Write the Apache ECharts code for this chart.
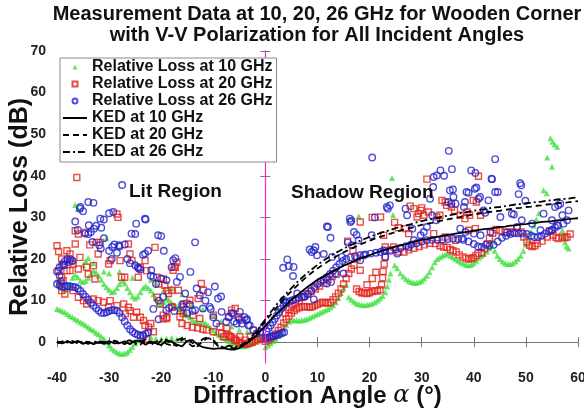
<!DOCTYPE html>
<html>
<head>
<meta charset="utf-8">
<script src="https://cdn.jsdelivr.net/npm/echarts@6/dist/echarts.min.js"></script>
<style>
html,body{margin:0;padding:0;background:#fff;}
#chart{width:584px;height:411px;}
</style>
</head>
<body>
<div id="chart"></div>
<script>
// ---------- DATA ----------
const seriesNames = ['Relative Loss at 10 GHz','Relative Loss at 20 GHz','Relative Loss at 26 GHz','KED at 10 GHz','KED at 20 GHz','KED at 26 GHz'];
const yTickValues = [0,10,20,30,40,50,60,70];

// 10 GHz measured (green triangles)
const green10Lit = [
[-40,8],[-39.5,7.8],[-39,7.5],[-38.5,7.2],[-38,6.8],[-37.5,6.3],[-37,6],[-36.5,5.6],[-36,5.2],[-35.5,4.8],[-35,4.5],[-34.5,4.1],[-34,3.6],[-33.5,3.2],[-33,2.8],[-32.5,2.3],[-32,1.9],[-31.5,1.4],[-31,0.8],[-30.5,0],[-30,-0.8],[-29.5,-1.5],[-29,-2],[-28.5,-2.4],[-28,-2.7],[-27.5,-2.8],[-27,-2.7],[-26.5,-2.4],[-26,-1.8],[-25.5,-1.1],[-25,-0.3],[-24.5,0.4],
[-22,1.2],[-21,0.8],[-20,0.6],[-19,0.9],[-18,1.0],[-17,0.7],[-16,0.9],
[-40,15],[-39.5,14.2],[-39,13],[-38.5,12.5],[-38,12.8],[-37.5,14],[-37,15.5],[-36.5,16.2],[-36,15.6],[-35.5,14.8],[-35,14.5],[-34.5,14.8],[-34,15.5],[-33.5,16.5],[-33,17.2],[-32.5,16.8],[-32,16],[-31.5,15],[-31,14],[-30.5,13.2],[-30,12.6],[-29.5,12],[-29,12.2],[-28.5,13],[-28,14],[-27.5,14.8],[-27,14.2],[-26.5,13],[-26,12],[-25.5,11],[-25,10.5],[-24.5,11],[-24,12],[-23.5,13],[-23,13.5],[-22.5,13],[-22,12.4],[-21.5,11.5],[-21,10.5],[-20.5,9.5],[-20,9],[-19.5,9.6],[-19,10.5],[-18.5,10.2],[-18,9.5],[-17.5,9],[-17,8.6],[-16.5,8],[-16,7.4],[-15.5,7],[-15,6.5],[-14.5,6],[-14,5.4],[-13.5,5],[-13,4.6],[-12.5,4.5],[-12,4.8],[-11.5,4.6],[-11,4],[-10.5,3.4],[-10,2.8],[-9.5,2.2],[-9,1.8],[-8.5,1.4],[-8,1],[-7.5,0.6],[-7,0.3],[-6.5,0],[-6,-0.3],[-5.5,-0.6],[-5,-0.8],[-4.5,-1],[-4,-1],[-3.5,-0.8],[-3,-0.5],[-2.5,-0.2],[-2,0.2],[-1.5,0.5],[-1,0.8],[-0.5,1.1],
[-36.5,33],[-36,32],[-34.5,19.5],[-35,18.5],[-34,20.2],[-33,19],[-30.5,25],[-31,17],[-30,16.5],[-28,17],[-25.5,15.5],[-22,15],[-21,14.2],[-19.5,12.5],[-18,13],[-16,11.5],[-14,9],[-12,8],[-10,6.5],[-8.5,5],[-6.5,3.8],[-5,3],[-3.5,2.5]
];
const green10Shadow = [
[0,-1.2],[0.5,-0.8],[1,-0.3],[1.5,0.2],[2,0.8],[2.5,1.5],[3,2.3],[3.5,3.2],[4,4.2],[4.5,4.9],[5,5.2],[5.5,5.3],[6,5.3],[6.5,5.2],[7,5.3],[7.5,5.4],[8,5.6],[8.5,5.9],[9,6.2],[9.5,6.5],[10,6.8],[10.5,7.1],[11,7.4],[11.5,7.7],[12,8.0],[12.5,8.4],[13,8.9],[13.5,9.6],[14,10.6],[14.5,11.8],[15,13.0],[15.5,13.8],
[16,10.8],[16.5,10.2],[17,9.7],[17.5,9.3],[18,9.1],[18.5,9.0],[19,8.9],[19.5,9.0],[20,9.1],[20.5,9.3],[21,9.6],[21.5,10.0],[22,10.5],[22.5,11.1],[23,12.0],[23.4,13.4],[23.7,15],[24,16.5],
[24.8,18.5],[25.3,17.8],[25.9,16.6],[26.5,15.8],[27,15.2],[27.5,14.8],[28,14.5],[28.5,14.3],[29,14.3],[29.5,14.5],[30,14.8],[30.5,15.3],[31,16],[31.5,16.9],[32,18],[32.5,19.2],[33,20],[33.5,20.4],[34,20.8],[34.5,21.1],[35,21.3],
[35.5,20.8],[36,20.4],[36.5,20],[37,19.6],[37.5,19.2],[38,18.9],[38.5,18.6],[39,18.5],[39.5,18.6],[40,19],[40.5,19.6],[41,20.3],[41.5,20.8],[42,21.2],[42.5,21.8],[43,22.6],[43.3,23.5],[43.6,24.4],
[44,22],[44.5,20.8],[45,20],[45.5,19.4],[46,19],[46.5,18.8],[47,18.8],[47.5,19],[48,19.4],[48.5,20],[49,20.8],[49.5,22],[50,23.5],[50.5,25],[51,26.5],[51.5,28],[52,29.5],[52.5,31],
[57,27],[57.3,25.5],[57.5,24],[57.8,23],[58.2,22.5],
[17.9,30.3],[24.3,39.5],[24.5,30.6],[54.7,49],[55.1,48.2],[55.5,47.5],[56,47],[54.1,44.4],[55,42.2],[53.4,36.5],[54,35.8]
];

// 20 GHz measured (red squares)
const red20Lit = [
[-40,23.2],[-39.7,21.8],[-39.1,20],[-38.1,22],[-37.5,21.2],[-38.8,18.8],[-37.2,19.6],[-39.7,17.2],[-38.1,17.2],[-39.1,15.6],[-39.4,14],[-39.1,12.4],[-38.5,11.6],[-37.5,17.2],[-36.9,18.8],[-36.5,26.8],[-36.2,39.6],[-35.9,26],[-34.6,26.4],[-33.7,23.4],[-36.5,23.6],[-35.6,20.4],[-35.9,17.6],[-34.3,18],[-34,16.4],[-32.7,15.2],[-33,18.4],[-32.1,21.2],[-32.4,24],[-31.7,24],[-29.8,19.6],[-30.1,18.8],[-28.5,30.8],[-28.3,30],[-27.9,19.6],[-27.6,15.6],[-27,15.6],[-26.3,23.6],[-26,21.2],[-25.6,19.6],[-24.4,15.6],[-24,18],[-23.1,19.6],[-22.8,17.2],[-21.2,22.8],[-20.8,15.6],[-20.5,14],[-19.6,15.2],[-20.8,10.8],[-20.2,9.2],[-18.9,12.4],[-17.9,8.4],[-17.3,18],[-17,19.2],[-18.9,6],[-19.6,5.6],[-16.3,7.6],[-15.7,9.2],
[-38.8,14.8],[-36.9,12.4],[-35.9,10.8],[-34.9,10],[-34.3,9.2],[-33,10.4],[-32.1,10],[-31.1,9.6],[-29.8,10],[-30.1,8.4],[-28.5,8.8],[-27.2,9.2],[-26.3,8.4],[-26,7.6],[-24.7,7.2],[-24,6],[-23.4,5.2],[-23.1,4],[-22.4,3.6],[-26.9,6.8],[-25.3,6],[-22,4.5],[-21.5,2.5],[-23.5,1.5],[-22.8,0.8],
[-17.4,18.1],[-17.7,17.3],[-19.3,13.7],[-18,12.5],[-18.6,11.7],[-16.7,12.5],[-19.6,6.5],[-19,5.7],[-18,8.5],[-16.4,6.1],[-15.8,6.9],[-15.1,9.3],[-14.5,10.1],[-12.9,10.5],[-12.3,14.1],[-11.9,12.5],[-13.9,6.5],[-12.6,5.7],[-10,6.5],[-8.7,3.7],[-7.4,3.3],[-6.5,7.7],[-5.8,8.1],[-5.2,6.1],[-4.5,5.3],[-7.1,6.1],[-8,1.3],[-5.8,0.5],[-4.9,1.3],[-3.9,0.5],[-2.9,1.3],[-2.3,2.9],[-11.3,2.9],[-10,2.5],[-8.4,2.1],[-6.8,1.3],
[-16,4.5],[-15,4],[-14,3.6],[-13,3.4],[-12,3.1],
[-7.5,2],[-7,1.6],[-6.5,1.2],[-6,0.8],[-5.5,0.4],[-5,0],[-4.5,-0.3],[-4,-0.5],[-3.5,-0.4],[-3,-0.2],[-2.5,0],[-2,0.3],[-1.5,0.6],[-1,1],[-0.5,0.8]
];
const red20Shadow = [
[0,0.2],[0.5,0.5],[1,0.9],[1.5,1.4],[2,2],[2.5,2.8],[3,3.6],[3.5,4.6],[4,5.5],[4.5,6.3],[5,7],[5.5,7.6],[6,8],[6.5,8.3],[7,8.5],[7.5,8.6],[8,8.5],[8.5,8.4],[9,8.5],[9.5,8.8],[10,9.1],[10.5,9.4],[11,9.6],[11.5,9.5],[12,9.4],[12.5,9.6],[13,10.2],[13.5,10.9],[14,11.8],[14.5,12.8],[15,14],[15.5,15.3],[16,16.5],[16.5,17.6],[17,18.5],
[3.8,7],[4.5,7.9],[5.1,8.7],[5.8,9.4],[6.5,10],[7.3,11],[8,11.6],[8.8,12.2],[9.6,12.8],[10.4,13.5],[11.2,14.2],[12,15],[12.8,15.8],[13.6,16.3],
[17.5,12.8],[18,12.2],[18.5,11.9],[19,11.8],[19.5,11.7],[20,11.9],[20.5,12.2],[21,12.4],[21.5,12.3],[22,12.6],[22.3,13.8],[22.5,15.5],[22.6,17],[22.8,18.8],[23,20.5],
[18.2,17.3],[19.5,13.8],[20.5,15.3],[21.2,16.8],[17.6,20.2],[16.8,22],[15.8,24.3],[18.2,28.9],[20.5,30],[22.1,30.1],[22.7,25.7],[23,22.9],
[24,22.2],[24.6,22.9],[25.6,21.7],[26.6,21.7],[27.5,22.2],[28.5,22.6],[29.5,23],[30.5,23.4],[31.5,23.8],[32.7,23.7],[33.5,23.2],[34.2,22.9],[34.9,22.8],[35.5,22.3],[36,22],[36.6,21.7],[37.2,21],[37.9,20.5],[38.5,20.2],[39,20],[39.5,20.1],[39.9,20.3],[40.4,20.8],[40.8,21.3],[41.5,21.5],[42.1,22.5],[42.6,23.7],[43,25],[43.6,26.2],[44.3,27.1],
[45,26.8],[46,26.5],[47,26.4],[47.5,26.5],[48.3,27.5],[49.1,26.5],[49.6,25.3],[50.2,24.1],[50.7,23.3],[51.2,23],[51.7,23.2],[52.2,23.7],[53.1,24.3],[54.1,25.3],[54.6,26.8],[55.2,25.7],[55.8,25.2],[56.2,24.9],[57,25.3],[57.5,25.1],[57.9,25.3],[58.5,26],
[26.9,27.3],[27.5,26.1],[27.8,32.7],[28.5,32.1],[29.4,30.9],[29.8,31.7],[30,32.3],[30.4,30.5],[29.1,30.1],[31,39.2],[31.3,31.3],[32.9,30.1],[33.5,30.5],[33.9,34.1],[34.5,33.7],[34.8,32.9],[35.7,32.5],[36.3,31.7],[37.4,30.5],[38.3,29.7],[38.7,31.3],[39.2,30.5],[39.9,34.1],[40.5,33.7],[40.9,39.9],[41.3,30.5],[32.3,26.1],[34.5,25.3],[36.5,24.5],[39,26.9],[40.3,27.3],[25.5,27.5],[24.8,28.8]
];

// 26 GHz measured (blue circles)
const blue26Lit = [
[-40,14],[-39.5,13.6],[-39,13.4],[-38.5,13.4],[-38,13.5],[-37.5,13.4],[-37,13.3],[-36.5,13.2],[-36,12.9],[-35.5,12.3],[-35,11.6],[-34.5,10.9],[-34,10.2],[-33.5,9.5],[-33,8.8],[-32.5,8.2],[-32,7.6],[-31.5,7.1],[-31,7],[-30.5,7.2],[-30,7.5],[-29.5,7.7],[-29,7.7],[-28.5,7.6],[-28,7],[-27.5,6],[-27,5],[-26.5,4],[-26,3.1],[-25.5,2.5],[-25,2.1],[-24.5,1.8],[-24,1.6],[-23.5,1.7],[-23,2],[-22.5,2.4],
[-40,17],[-39.5,18],[-39,18.5],[-38.5,19.5],[-38,20],[-37.5,20],[-37,19.5],[-36.5,29],[-36,27],[-35.5,32.5],[-35,31.5],[-34,26],[-33.5,26.5],[-33,33.5],[-32.5,28],[-31.5,27.5],[-31,29.5],[-31,25],[-30,31],[-30,22],[-29.5,20],[-29,23.5],[-28.5,21.5],[-28,23],[-27.5,37.8],[-27,23.5],[-26.5,20],[-26,19],[-25,26],[-24.8,28.5],[-24.5,18],[-24,17.5],[-23.5,21],[-23,29.5],[-22.5,22],[-22,16],[-21,14],[-20.5,10],[-20,25.5],[-19.5,22],
[-17.7,19.7],[-17.3,20.2],[-14.4,16.9],[-16.4,15.7],[-17,14.5],[-19,14.9],[-19.6,10.9],[-19,7.7],[-15.4,11.7],[-13.2,12.9],[-12.6,11.3],[-9.7,13.4],[-9.1,10.5],[-10.7,8.5],[-12,8.1],[-13.5,7.7],[-15.8,8.5],[-8.4,7.3],[-6.2,6.9],[-4.9,7.3],[-3.7,5.3],[-3.3,4.1],[-2.3,2.9],[-1.7,2.1],[-1,2.5],[-0.4,3.7],[-9.4,4.5],[-7.5,4.9],[-5.5,4.5],[-13.5,24],[-18,18],[-16,9],[-15,7],[-14.5,9],[-14,7.5],[-11.5,10],[-11,12],[-10.5,8],[-10,6],[-8.5,11],[-7,6],[-6.5,7],[-6,5],[-5,5.5],[-4.5,4.5],[-4,6],[-3.5,5.5],[-3,4],[-21.5,8],[-20.5,5.5],[-18.5,8.2],[-17.5,7.5],
[-34,33.7],[-35.6,32.1],[-29.2,31.3],[-31.7,29.7],[-23.1,29.7],[-33.9,28.1],[-32.9,27.3],[-34.6,26.1],[-25.7,26.1],[-20.6,25.7],[-33.2,24.1],[-31.9,23.3],[-29.4,22.9],[-28.1,23.3],[-23.1,21.3],[-31.6,22.5],[-37.6,19.3],[-38.6,18.5],[-39.5,16.1],[-39.2,14.5],[-25,18.5],[-24.3,17.7],[-21.5,15.7],[-21.9,17.3],[-20,15.3]
];
const blue26Shadow = [
[0,1],[0.4,1.1],[0.8,1.2],[1.2,1.4],[1.6,1.5],[2,1.7],[2.4,1.8],[2.8,2],[3.2,2.2],[3.6,2.4],
[0.2,2.6],[0.6,3.3],[1,4],[1.4,4.8],[1.8,5.6],[2.2,6.4],[2.6,7.2],[3,8],[3.5,8.8],[4,9.4],[4.6,9.8],[5.2,10.1],[5.8,10.4],[6.4,10.6],[7,10.8],[7.6,11],[8.2,11.6],[8.8,12.4],[9.4,13.2],[10,14],[10.6,14.6],[11.2,15],[11.8,15.6],[12.4,16.4],[13,17.2],[13.6,18],[14.2,18.8],[14.8,19.5],[15.5,20],[16.3,20.4],[17.2,20.7],[18.2,20.9],[19.2,21.1],[20.2,21.3],[21.2,21.5],[22.1,21.7],[23,21.9],[24,22],[25,22.3],[26,22.7],[27,23.1],[28,23.5],[29,23.8],[30,24.2],[31,24.5],[32,24.6],[33,24.6],[34,24.7],[35,24.8],[36,24.9],[37,24.8],[38,24.6],[39,24.2],[40,23.6],[40.8,23],[41.5,22.9],[42.3,23.4],[43,23.2],[43.8,23.4],[44.6,24.2],[45.4,25.1],[46.2,25.6],[47,26],[47.8,26.2],[48.6,26.2],[49.4,26.1],[50.2,26],[51,25.6],[51.6,25.3],[52.3,25.3],[53,25.6],[53.7,26.1],[54.4,26.6],[55,27],[55.6,27.6],[56.2,28],
[20.5,44.4],[35.2,46],[44.1,44],[33.6,41.3],[32.9,40.1],[32.3,39.7],[34.3,40],[35.8,41.6],[39.5,41.3],[40.3,40.7],[43.5,39.2],[40.5,37.2],[39,35.9],[40.9,34.5],[44.6,36.1],[48.6,35.6],[49.1,37.7],[49.9,34],[36,36.7],[36.1,34.9],[35.1,33.7],[36.5,33.3],[26.9,32.1],[27.2,30.5],[23.9,32.9],[23.5,32.1],[21,30],[16.2,29.7],[16.5,29.2],[16.3,28.9],[12,27.7],[12.5,25.1],[9.6,22.9],[8.9,21.7],[8.5,22.3],[11.2,21.2],[12.8,20.5],[15.8,24],[17,26.5],[17.5,25.8],[4.2,19.9],[4.5,18.3],[3.4,17.9],[5.3,15.9],[6.1,11.7],[3.5,10.1],[3.9,9.6],[7.4,10.9],[9.3,10.3],[11.8,14.1],[12.6,14.5],[13.4,16.5],[15,16.5],[14.7,20.5],[18.2,19.7],[18.9,20.9],[22.7,22.1],[23,20.5],[25.3,21.3],[27.5,22.9],[28.5,24.5],[29.8,25.7],[30.4,26.5],[31,27.7],[28.2,27.3],[32,30.5],[32.8,29.3],[37.4,27.3],[38.4,26.5],[37.7,24.9],[40,26.1],[41.3,25.7],[43.2,26.5],[46.4,26.4],[48.3,27.7],[51.2,28.5],[52.8,26.9],[55,26.9],[56,28.1],[57,30.5],[57.9,29.3],[56.6,33.3],[58.2,31.7],[47.7,30.7],[45.1,30.1],[53.4,30.9],[42.2,31.1],[38.1,32.5],
[32.2,37.3],[35.4,36.5],[38.6,36.1],[40.2,36.9],[41.2,34.9],[42.8,34.1],[44.1,36.1],[35.7,33.3],[38.3,33.7],[41.9,31.7],[47.3,30.9],[49.2,29.3],[55.6,32.5],[56.2,32.9],[57.2,28.5],[55,29.3],[31.6,34.5],[48.9,38.2],[43.4,39.3],
[11.8,27.8],[9.3,22.1],[9.9,20.9],[16.6,23.3],[17.9,24.5],[20.4,25.7],[23.3,32.5],[5.4,18.1]
];

// KED model curves
const kedAngles = [-40,-39,-38,-37,-36,-35,-34,-33,-32,-31,-30,-29,-28,-27,-26,-25,-24,-23,-22,-21,-20,-19,-18,-17,-16,-15,-14,-13,-12,-11,-10,-9,-8,-7,-6,-5,-4,-3,-2,-1,0,1,2,3,4,5,6,7,8,9,10,11,12,13,14,15,16,17,18,19,20,21,22,23,24,25,26,27,28,29,30,31,32,33,34,35,36,37,38,39,40,41,42,43,44,45,46,47,48,49,50,51,52,53,54,55,56,57,58,59,60];
const ked10 = [0,-0.3,0.2,-0.2,0.3,-0.4,0.1,-0.5,0.0,-0.4,0.3,-0.3,-0.2,0.2,-0.5,0.4,0.3,-0.6,0.2,-0.2,-0.7,0.4,0.2,-0.6,-1.0,0.3,0.5,-0.6,-1.2,-1.4,-1.6,-1.5,-1.4,-1.7,-1.8,-1.4,-0.6,0.3,1.3,2.6,4.0,5.3,6.6,7.8,9.0,10.2,11.2,12.2,13.2,14.1,15.0,15.7,16.4,17.1,17.7,18.4,18.9,19.5,20.0,20.5,20.9,21.4,21.8,22.2,22.6,23.0,23.3,23.6,24.0,24.3,24.6,24.8,25.1,25.3,25.6,25.8,26.0,26.2,26.4,26.6,26.8,27.0,27.2,27.3,27.5,27.7,27.8,28.0,28.1,28.3,28.4,28.6,28.7,28.9,29.0,29.1,29.3,29.4,29.6,29.7,29.8];
const ked20 = [0.2,-0.2,0.3,-0.3,0.2,0.0,-0.4,0.3,-0.2,0.1,-0.4,0.3,0.0,-0.5,0.4,-0.1,-0.6,0.5,-0.2,-0.8,0.4,0.6,-0.5,-0.9,0.6,1.0,-0.2,-1.0,0.3,1.0,0.5,-0.8,-1.3,-1.2,-1.5,-1.2,-0.4,0.6,1.8,3.3,5.0,6.6,8.1,9.6,11.0,12.3,13.5,14.7,15.8,16.8,17.7,18.6,19.4,20.2,20.9,21.6,22.2,22.8,23.4,23.9,24.4,24.9,25.3,25.7,26.1,26.5,26.9,27.2,27.5,27.9,28.2,28.5,28.7,29.0,29.3,29.5,29.8,30.0,30.2,30.5,30.7,30.9,31.1,31.3,31.5,31.6,31.8,32.0,32.2,32.3,32.5,32.6,32.8,32.9,33.1,33.2,33.4,33.5,33.6,33.8,33.9];
const ked26 = [-0.2,0.2,-0.1,0.3,-0.3,0.2,0.1,-0.4,0.3,0.0,-0.3,0.4,-0.4,0.1,0.5,-0.5,0.2,0.6,-0.6,0.1,0.7,-0.4,-0.8,0.5,1.0,0.0,-1.0,-0.6,0.8,1.2,0.2,-1.0,-1.4,-0.8,-1.2,-1.0,-0.2,0.9,2.2,3.8,5.5,7.2,8.8,10.3,11.7,13.0,14.3,15.5,16.6,17.6,18.6,19.5,20.3,21.1,21.8,22.5,23.1,23.7,24.3,24.8,25.3,25.8,26.2,26.6,27.0,27.4,27.8,28.1,28.4,28.8,29.1,29.4,29.6,29.9,30.2,30.4,30.7,30.9,31.1,31.4,31.6,31.8,32.0,32.2,32.4,32.5,32.7,32.9,33.1,33.2,33.4,33.5,33.7,33.8,34.0,34.1,34.3,34.4,34.5,34.7,34.8];

// ---------- CHART ----------
const FONT = '"Liberation Sans", Arial, Helvetica, sans-serif';
const pair = (ys) => kedAngles.map((a, i) => [a, ys[i]]);
const hollow = (c) => ({ color: 'rgba(255,255,255,0)', borderColor: c, borderWidth: 1.4 });
const noDot = { color: 'rgba(0,0,0,0)', borderWidth: 0, opacity: 0 };

const chart = echarts.init(document.getElementById('chart'), null, { renderer: 'canvas' });
chart.setOption({
  animation: false,
  backgroundColor: '#ffffff',
  title: {
    text: 'Measurement Data at 10, 20, 26 GHz for Wooden Corner\nwith V-V Polarization for All Incident Angles',
    left: 317, top: 4, textAlign: 'center', padding: 0,
    textStyle: { fontFamily: FONT, fontSize: 20, fontWeight: 'bold', color: '#111', lineHeight: 21 }
  },
  grid: { left: 57, right: 6, top: 51, bottom: 48, containLabel: false, outerBoundsMode: 'none' },
  legend: {
    data: [
      { name: seriesNames[0], icon: 'path://M0,10 L5,0 L10,10 Z' },
      { name: seriesNames[1], icon: 'path://M0,0 L10,0 L10,10 L0,10 Z' },
      { name: seriesNames[2], icon: 'circle' },
      { name: seriesNames[3], itemStyle: noDot },
      { name: seriesNames[4], itemStyle: noDot },
      { name: seriesNames[5], itemStyle: noDot }
    ],
    symbolKeepAspect: true,
    orient: 'vertical', left: 60, top: 58,
    itemWidth: 24, itemHeight: 5, itemGap: 1,
    padding: [1, 4, 2, 2],
    backgroundColor: '#ffffff', borderColor: '#8a8a8a', borderWidth: 1, borderRadius: 0,
    textStyle: { fontFamily: FONT, fontSize: 16, fontWeight: 'bold', color: '#111' },
    z: 10
  },
  xAxis: [{
    type: 'value', min: -40, max: 60, interval: 10, position: 'bottom',
    axisLine: { show: true, lineStyle: { color: '#777', width: 1 } },
    axisTick: { show: true, inside: true, length: 5, lineStyle: { color: '#777' } },
    axisLabel: { fontFamily: FONT, fontSize: 14, fontWeight: 'bold', color: '#222', margin: 8 },
    splitLine: { show: false },
    name: 'Diffraction Angle {a|α} (°)', nameLocation: 'middle', nameGap: 21, nameMoveOverlap: false,
    nameTextStyle: { fontFamily: FONT, fontSize: 24, fontWeight: 'bold', color: '#111',
      rich: { a: { fontFamily: '"DejaVu Serif", "Liberation Serif", serif', fontStyle: 'italic', fontSize: 24, fontWeight: 'normal', color: '#111' } } }
  }, {
    type: 'value', min: -40, max: 60, interval: 10, position: 'top',
    axisLine: { show: true, lineStyle: { color: '#777', width: 1 } },
    axisTick: { show: true, inside: true, length: 5, lineStyle: { color: '#777' } },
    axisLabel: { show: false }, splitLine: { show: false }
  }],
  yAxis: [{
    type: 'value', min: -5, max: 70, position: 'left',
    axisLine: { show: true, lineStyle: { color: '#777', width: 1 } },
    axisTick: { show: true, inside: true, length: 5, customValues: yTickValues, lineStyle: { color: '#777' } },
    axisLabel: { customValues: yTickValues, fontFamily: FONT, fontSize: 14, fontWeight: 'bold', color: '#222', margin: 11 },
    splitLine: { show: false },
    name: 'Relative Loss (dB)', nameLocation: 'middle', nameGap: 24, nameMoveOverlap: false,
    nameTextStyle: { fontFamily: FONT, fontSize: 25, fontWeight: 'bold', color: '#111' }
  }, {
    type: 'value', min: -5, max: 70, position: 'right',
    axisLine: { show: true, lineStyle: { color: '#777', width: 1 } },
    axisTick: { show: true, inside: true, length: 5, customValues: yTickValues, lineStyle: { color: '#777' } },
    axisLabel: { show: false }, splitLine: { show: false }
  }],
  graphic: [
    { type: 'text', left: 129, top: 182, z: 20, style: { text: 'Lit Region', font: 'bold 19px ' + FONT, fill: '#111' } },
    { type: 'text', left: 291, top: 183, z: 20, style: { text: 'Shadow Region', font: 'bold 19px ' + FONT, fill: '#111' } }
  ],
  series: [
    {
      name: seriesNames[0], type: 'scatter', symbol: 'triangle', symbolSize: 6,
      data: green10Lit.concat(green10Shadow),
      itemStyle: { color: '#3fe03f' }, z: 2,
      markLine: {
        silent: true, symbol: ['none', 'none'], label: { show: false },
        lineStyle: { color: '#ff22cc', width: 1.2, type: 'solid' },
        data: [{ xAxis: 0 }]
      }
    },
    {
      name: seriesNames[1], type: 'scatter', symbol: 'rect', symbolSize: 6,
      data: red20Lit.concat(red20Shadow),
      itemStyle: hollow('#e3231c'), z: 3
    },
    {
      name: seriesNames[2], type: 'scatter', symbol: 'circle', symbolSize: 6.5,
      data: blue26Lit.concat(blue26Shadow),
      itemStyle: hollow('#2222cc'), z: 4
    },
    { name: seriesNames[3], type: 'line', symbol: 'none', data: pair(ked10), z: 6,
      lineStyle: { color: '#000', width: 1.8, type: 'solid' }, itemStyle: noDot },
    { name: seriesNames[4], type: 'line', symbol: 'none', data: pair(ked20), z: 6,
      lineStyle: { color: '#000', width: 1.8, type: [6, 4] }, itemStyle: noDot },
    { name: seriesNames[5], type: 'line', symbol: 'none', data: pair(ked26), z: 6,
      lineStyle: { color: '#000', width: 1.8, type: [7, 3, 2, 3] }, itemStyle: noDot }
  ]
});
</script>
</body>
</html>
